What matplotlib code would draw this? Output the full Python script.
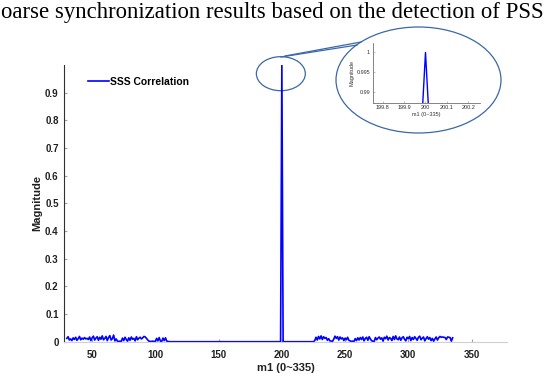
import numpy as np
import matplotlib
matplotlib.use("Agg")
import matplotlib.pyplot as plt
from matplotlib.patches import Ellipse
from matplotlib.lines import Line2D

# SSS correlation magnitude, m1 = 30..335
noise_left = [0.012, 0.018, 0.006, 0.010, 0.004, 0.014, 0.008, 0.016, 0.005, 0.011,
              0.019, 0.007, 0.013, 0.009, 0.015, 0.010, 0.012, 0.008, 0.017, 0.004,
              0.014, 0.020, 0.006, 0.013, 0.018, 0.005, 0.016, 0.009, 0.021, 0.007,
              0.012, 0.019, 0.004, 0.015, 0.022, 0.006, 0.011, 0.024, 0.003, 0.010,
              0.002, 0.001, 0.002, 0.001, 0.013, 0.004, 0.016, 0.008, 0.002, 0.014,
              0.005, 0.017, 0.009, 0.012, 0.003, 0.018, 0.007, 0.013, 0.016, 0.010,
              0.014, 0.019, 0.017, 0.012, 0.006, 0.002, 0.001, 0.001, 0.002, 0.001,
              0.001, 0.012, 0.003, 0.015, 0.002, 0.001, 0.013, 0.004, 0.014, 0.002,
              0.001, 0.0, 0.0]                       # m1 = 30..112
flat_before = [0.0] * 86                            # m1 = 113..198
peak = [0.0, 1.0, 0.0]                              # m1 = 199..201
flat_after = [0.0] * 24                             # m1 = 202..225
noise_right = [0.004, 0.016, 0.006, 0.019, 0.010, 0.021, 0.008, 0.018, 0.012, 0.015,
               0.005, 0.011, 0.003, 0.002, 0.001, 0.009, 0.020, 0.012, 0.018, 0.006,
               0.017, 0.010, 0.014, 0.004, 0.013, 0.007, 0.016, 0.005, 0.003, 0.001,
               0.002, 0.001, 0.011, 0.004, 0.014, 0.006, 0.015, 0.008, 0.017, 0.003,
               0.012, 0.016, 0.005, 0.018, 0.010, 0.003, 0.002, 0.001, 0.015, 0.007,
               0.013, 0.017, 0.009, 0.014, 0.002, 0.016, 0.011, 0.020, 0.006, 0.015,
               0.012, 0.004, 0.019, 0.008, 0.021, 0.010, 0.007, 0.017, 0.005, 0.014,
               0.018, 0.009, 0.003, 0.016, 0.011, 0.019, 0.004, 0.015, 0.008, 0.018,
               0.012, 0.005, 0.016, 0.020, 0.007, 0.013, 0.017, 0.003, 0.011, 0.018,
               0.009, 0.015, 0.004, 0.012, 0.002, 0.010, 0.017, 0.006, 0.014, 0.019,
               0.016, 0.017, 0.016, 0.015, 0.008, 0.017, 0.016, 0.015, 0.002, 0.014]  # m1 = 226..335

magnitude = np.array(noise_left + flat_before + peak + flat_after + noise_right)
m1 = np.arange(30, 30 + len(magnitude))

yticks = [0, 0.1, 0.2, 0.3, 0.4, 0.5, 0.6, 0.7, 0.8, 0.9]
ytick_labels = ["0", "0.1", "0.2", "0.3", "0.4", "0.5", "0.6", "0.7", "0.8", "0.9"]
xticks = [50, 100, 150, 200, 250, 300, 350]
inset_xticks = [199.8, 199.9, 200, 200.1, 200.2]
inset_xlabels = ["199.8", "199.9", "200", "200.1", "200.2"]
inset_yticks = [0.99, 0.995, 1]
inset_ylabels = ["0.99", "0.995", "1"]

W, H = 544, 374
blue = "#0000ff"
zoom_col = "#3a68a8"
plt.rcParams["font.family"] = ["Liberation Sans", "DejaVu Sans"]

fig = plt.figure(figsize=(W / 100, H / 100), dpi=100)


def fx(x):
    return x / W


def fy(y):
    return 1 - y / H


fig.text(fx(1), fy(18), "oarse synchronization results based on the detection of PSS",
         family=["Liberation Serif", "DejaVu Serif"], fontsize=16.4, va="baseline", ha="left")

ax = fig.add_axes([fx(64.3), fy(341.7), fx(507) - fx(64.3), fy(65) - fy(341.7)])
ax.plot(m1, magnitude, color=blue, lw=1.2, label="SSS Correlation")
ax.set_xlim(28, 378)
ax.set_ylim(0, 1.0)
ax.set_xticks(xticks)
ax.set_yticks(yticks)
ax.set_yticklabels(ytick_labels)
for s in ["top", "right"]:
    ax.spines[s].set_visible(False)
ax.spines["left"].set_color("#303030")
ax.spines["bottom"].set_color("#d0d0d0")
ax.tick_params(direction="in", length=2.5, color="#a0a0a0", labelsize=7)
ax.tick_params(axis="y", pad=4)
ax.tick_params(axis="x", pad=6)
for lab in ax.get_xticklabels() + ax.get_yticklabels():
    lab.set_fontweight("bold")
    lab.set_color("#202020")
ax.set_xlabel("m1 (0~335)", fontsize=8, fontweight="bold", color="#202020", labelpad=2)
ax.set_ylabel("Magnitude", fontsize=8, fontweight="bold", color="#202020", labelpad=2)
leg = ax.legend(loc="upper left", bbox_to_anchor=(fx(88), fy(77)), bbox_transform=fig.transFigure,
                frameon=False, borderpad=0, borderaxespad=0, handletextpad=0.1,
                prop={"size": 7.5, "weight": "bold"})

# small ellipse around the peak
ax.add_patch(Ellipse((199.2, 0.9686), 38.7, 0.123, fill=False, ec=zoom_col, lw=0.9, clip_on=False))

# inset
axin = fig.add_axes([fx(372.7), fy(102.7), fx(480) - fx(372.7), fy(43) - fy(102.7)])
axin.plot(m1, magnitude, color=blue, lw=1.0)
axin.set_xlim(199.753, 200.255)
axin.set_ylim(0.9873, 1.0024)
axin.set_xticks(inset_xticks)
axin.set_xticklabels(inset_xlabels)
axin.set_yticks(inset_yticks)
axin.set_yticklabels(inset_ylabels)
axin.patch.set_alpha(0)
for s in ["top", "right"]:
    axin.spines[s].set_visible(False)
for s in ["left", "bottom"]:
    axin.spines[s].set_color("#707070")
    axin.spines[s].set_linewidth(0.6)
axin.tick_params(direction="in", length=1.5, width=0.4, color="#909090", labelsize=4, pad=2,
                 labelcolor="#303030")
axin.set_xlabel("m1 (0~335)", fontsize=4, labelpad=1, color="#303030")
axin.set_ylabel("Magnitude", fontsize=4, labelpad=1, color="#303030")

# big ellipse and connector lines
fig.add_artist(Ellipse((fx(418.5), fy(80)), fx(165), 106 / H, fill=False, ec=zoom_col, lw=0.9,
                       transform=fig.transFigure))
fig.add_artist(Line2D([fx(281), fx(357)], [fy(57), fy(45)], color=zoom_col, lw=0.9,
                      transform=fig.transFigure))
fig.add_artist(Line2D([fx(285), fx(361)], [fy(56), fy(42)], color=zoom_col, lw=0.9,
                      transform=fig.transFigure))

fig.savefig("out.png", dpi=100)
